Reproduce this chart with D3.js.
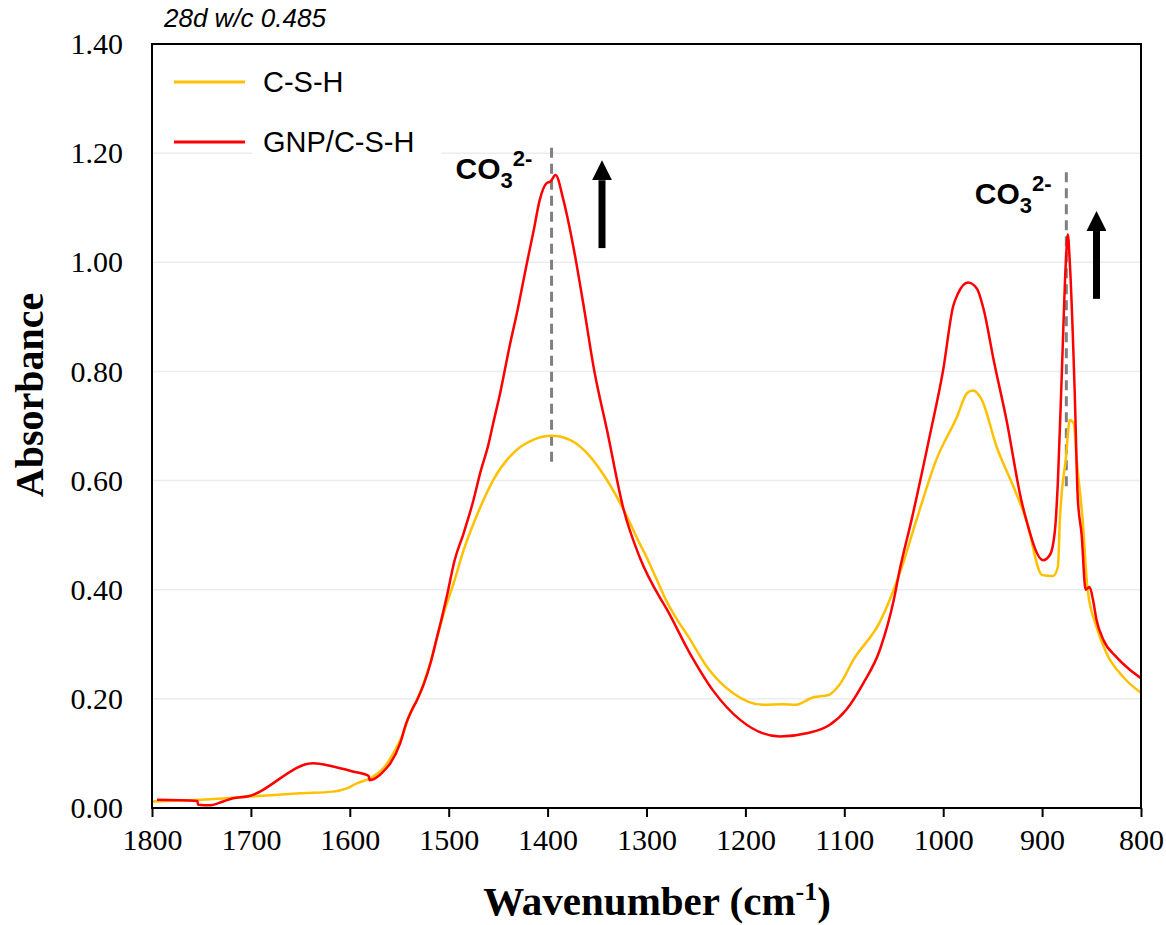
<!DOCTYPE html>
<html>
<head>
<meta charset="utf-8">
<script src="https://cdn.jsdelivr.net/npm/d3@7"></script>
<style>
  body { margin: 0; background: #fff; }
  svg { display: block; }
  .serif { font-family: "Liberation Serif", "Times New Roman", serif; }
  .sans { font-family: "Liberation Sans", Arial, sans-serif; }
</style>
</head>
<body>
<div id="chart"></div>
<script>
// values (wavenumber cm-1, absorbance)
var cshWn = [1800, 1752, 1701, 1650, 1617, 1603, 1593, 1580, 1566, 1556, 1546, 1539, 1532, 1525, 1518, 1512, 1505, 1495, 1485, 1472, 1455, 1435, 1414, 1396, 1377, 1357, 1340, 1323, 1307, 1300, 1290, 1280, 1270, 1258, 1239, 1212, 1182, 1162, 1150, 1131, 1116, 1104, 1091, 1064, 1044, 1027, 1007, 986, 976, 970, 961, 946, 929, 916, 900, 889, 884, 882, 880, 876, 872, 868, 865, 859, 854, 845, 835, 818, 800];
var cshAbs = [0.012, 0.015, 0.021, 0.027, 0.030, 0.036, 0.045, 0.054, 0.073, 0.100, 0.137, 0.174, 0.198, 0.230, 0.270, 0.310, 0.357, 0.412, 0.472, 0.534, 0.601, 0.650, 0.675, 0.682, 0.674, 0.644, 0.601, 0.546, 0.485, 0.460, 0.420, 0.380, 0.348, 0.315, 0.259, 0.210, 0.189, 0.190, 0.189, 0.203, 0.207, 0.228, 0.271, 0.341, 0.430, 0.528, 0.638, 0.717, 0.760, 0.765, 0.748, 0.662, 0.589, 0.528, 0.427, 0.425, 0.442, 0.530, 0.580, 0.640, 0.711, 0.705, 0.638, 0.528, 0.400, 0.332, 0.284, 0.240, 0.211];

var gnpWn = [1795, 1754, 1753.5, 1741, 1728, 1718, 1704, 1637, 1617, 1597, 1581, 1580, 1570, 1564, 1559, 1549, 1543, 1537, 1532, 1525, 1518, 1512, 1507, 1502, 1494, 1485, 1475, 1468, 1460, 1455, 1448, 1438, 1431, 1421, 1414, 1408, 1401, 1397, 1392, 1384, 1374, 1364, 1353, 1340, 1323, 1307, 1286, 1281, 1256, 1233, 1205, 1165, 1138, 1115, 1098, 1081, 1064, 1050, 1044, 1032, 1013, 1000, 990, 985, 975, 966, 959, 949, 936, 921, 916, 899, 892, 887, 884, 880, 876, 874, 872, 867, 864, 860, 856, 852, 848.5, 845, 838, 825, 811, 800];
var gnpAbs = [0.015, 0.013, 0.006, 0.005, 0.012, 0.018, 0.021, 0.082, 0.076, 0.067, 0.059, 0.051, 0.060, 0.071, 0.082, 0.119, 0.155, 0.180, 0.198, 0.228, 0.268, 0.312, 0.348, 0.387, 0.454, 0.503, 0.564, 0.615, 0.665, 0.705, 0.760, 0.850, 0.907, 0.998, 1.059, 1.114, 1.145, 1.148, 1.160, 1.114, 1.029, 0.925, 0.803, 0.693, 0.546, 0.460, 0.384, 0.369, 0.283, 0.216, 0.161, 0.131, 0.137, 0.152, 0.180, 0.228, 0.290, 0.381, 0.436, 0.528, 0.687, 0.803, 0.919, 0.943, 0.963, 0.952, 0.913, 0.821, 0.711, 0.564, 0.528, 0.454, 0.464, 0.509, 0.600, 0.800, 1.000, 1.051, 1.000, 0.760, 0.570, 0.500, 0.400, 0.405, 0.381, 0.345, 0.308, 0.277, 0.253, 0.238];

var seriesNames = ["C-S-H", "GNP/C-S-H"];
var seriesColors = ["#FFC000", "#FF0000"];
var xTicks = [1800, 1700, 1600, 1500, 1400, 1300, 1200, 1100, 1000, 900, 800];
var yTicks = [0, 0.2, 0.4, 0.6, 0.8, 1.0, 1.2, 1.4];

// CO3 2- peak markers: [wavenumber, top, bottom], arrows: [wavenumber, tail, tip]
var peakLines = [[1396, 1.21, 0.63], [875.5, 1.165, 0.58]];
var arrows = [[1345, 1.026, 1.187], [845, 0.933, 1.094]];
var peakLabels = [[1493, 1.153], [968, 1.107]];

var W = 1166, H = 925;
var margin = {left: 152, top: 44, right: 25, bottom: 117};
var pw = W - margin.left - margin.right, ph = H - margin.top - margin.bottom;

var x = d3.scaleLinear().domain([1800, 800]).range([0, pw]);
var y = d3.scaleLinear().domain([0, 1.4]).range([ph, 0]);

var svg = d3.select('#chart').append('svg').attr('width', W).attr('height', H);
var g = svg.append('g').attr('transform', 'translate(' + margin.left + ',' + margin.top + ')');

// gridlines
g.append('g').selectAll('line')
  .data(yTicks.filter(function(d) { return d > 0 && d < 1.4 }))
  .join('line')
  .attr('x1', 0).attr('x2', pw)
  .attr('y1', d => y(d)).attr('y2', d => y(d))
  .attr('stroke', '#ececec').attr('stroke-width', 1.5);

// legend (white box hides grid behind text)
g.append('rect').attr('x', 100).attr('y', 12).attr('width', 190).attr('height', 120).attr('fill', '#fff');
var leg = g.append('g').attr('transform', 'translate(22,38)');
seriesNames.forEach(function(n, i) {
  var row = leg.append('g').attr('transform', 'translate(0,' + (i * 60) + ')');
  row.append('line').attr('x1', 0).attr('x2', 71).attr('stroke', seriesColors[i]).attr('stroke-width', 3);
  row.append('text').attr('class', 'sans').attr('x', 89).attr('y', 10)
    .style('font-size', '29px')
    .text(n);
});

// dashed peak lines
g.append('g').selectAll('line').data(peakLines).join('line')
  .attr('x1', d => x(d[0])).attr('x2', d => x(d[0]))
  .attr('y1', d => y(d[1])).attr('y2', d => y(d[2]))
  .attr('stroke', '#808080').attr('stroke-width', 3).attr('stroke-dasharray', '10,6');

// spectra
var line = d3.line().x(d => x(d[0])).y(d => y(d[1])).curve(d3.curveMonotoneX);
var cshData = d3.zip(cshWn, cshAbs);
var gnpData = d3.zip(gnpWn, gnpAbs);
g.append('path').datum(cshData).attr('d', line)
  .attr('fill', 'none').attr('stroke', seriesColors[0]).attr('stroke-width', 2.5).attr('stroke-linejoin', 'round');
g.append('path').datum(gnpData).attr('d', line)
  .attr('fill', 'none').attr('stroke', seriesColors[1]).attr('stroke-width', 2.5).attr('stroke-linejoin', 'round');

// arrows
svg.append('defs').append('marker').attr('id', 'head')
  .attr('viewBox', '0 0 10 10').attr('refX', 0).attr('refY', 5)
  .attr('markerUnits', 'userSpaceOnUse').attr('markerWidth', 20).attr('markerHeight', 20)
  .attr('orient', 'auto')
  .append('path').attr('d', 'M0,0 L10,5 L0,10 Z').attr('fill', '#000');
g.append('g').selectAll('line').data(arrows).join('line')
  .attr('x1', d => x(d[0])).attr('x2', d => x(d[0]))
  .attr('y1', d => y(d[1])).attr('y2', d => y(d[2]) + 20)
  .attr('stroke', '#000').attr('stroke-width', 7)
  .attr('marker-end', 'url(#head)');

// CO3 2- labels
peakLabels.forEach(function(p) {
  var t = g.append('text').attr('class', 'sans').attr('x', x(p[0])).attr('y', y(p[1]))
    .style('font-weight', 'bold').style('font-size', '30px');
  t.append('tspan').text('CO');
  t.append('tspan').style('font-size', '22px').attr('dy', 9).text('3');
  t.append('tspan').style('font-size', '22px').attr('dy', -22).text('2-');
});

// frame
g.append('rect').attr('width', pw).attr('height', ph)
  .attr('fill', 'none').attr('stroke', '#000').attr('stroke-width', 2);

// axes
var xAxis = g.append('g').attr('transform', 'translate(0,' + ph + ')')
  .call(d3.axisBottom(x).tickValues(xTicks).tickSize(9).tickPadding(12).tickFormat(d3.format('d')));
xAxis.attr('font-family', null).attr('font-size', null);
xAxis.select('.domain').remove();
xAxis.selectAll('line').attr('stroke', '#000').attr('stroke-width', 2);
xAxis.selectAll('text').attr('class', 'serif').style('font-size', '30px').attr('fill', '#000');

var yAxis = g.append('g')
  .call(d3.axisLeft(y).tickValues(yTicks).tickSize(0).tickPadding(29).tickFormat(d3.format('.2f')));
yAxis.attr('font-family', null).attr('font-size', null);
yAxis.select('.domain').remove();
yAxis.selectAll('text').attr('class', 'serif').style('font-size', '30px').attr('fill', '#000');

// titles
svg.append('text').attr('class', 'sans').attr('x', 164).attr('y', 27)
  .style('font-style', 'italic').style('font-size', '26px')
  .text('28d w/c 0.485');

var xt = svg.append('text').attr('class', 'serif').attr('x', 657).attr('y', 915).attr('text-anchor', 'middle')
  .style('font-weight', 'bold').style('font-size', '41px');
xt.append('tspan').text('Wavenumber (cm');
xt.append('tspan').style('font-size', '26px').attr('dy', -15).text('-1');
xt.append('tspan').attr('dy', 15).text(')');

svg.append('text').attr('class', 'serif').attr('transform', 'translate(43,395) rotate(-90)').attr('text-anchor', 'middle')
  .style('font-weight', 'bold').style('font-size', '40px')
  .text('Absorbance');
</script>
</body>
</html>
